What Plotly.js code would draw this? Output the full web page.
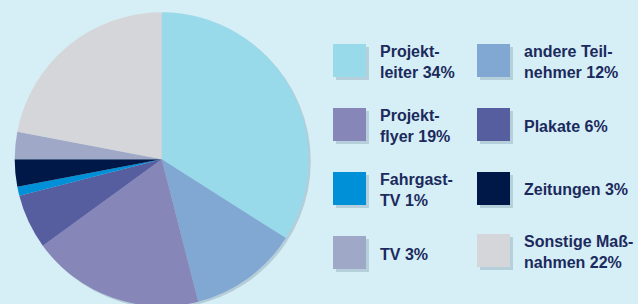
<!DOCTYPE html>
<html>
<head>
<meta charset="utf-8">
<script src="https://cdn.plot.ly/plotly-3.0.1.min.js"></script>
<style>
html,body{margin:0;padding:0;background:#d6eef6;overflow:hidden;width:638px;height:304px;}
#chart{width:638px;height:312px;}
</style>
</head>
<body>
<div id="chart"></div>
<script>
// Data
var categories = ["Projektleiter", "andere Teilnehmer", "Projektflyer", "Plakate", "Fahrgast-TV", "Zeitungen", "TV", "Sonstige Maßnahmen"];
var values = [34, 12, 19, 6, 1, 3, 3, 22];
var legendLabels = ["Projekt-<br>leiter 34%", "andere Teil-<br>nehmer 12%", "Projekt-<br>flyer 19%", "Plakate 6%", "Fahrgast-<br>TV 1%", "Zeitungen 3%", "TV 3%", "Sonstige Maß-<br>nahmen 22%"];
var colors = ["#98d9ea", "#80a8d2", "#8686b8", "#575ea0", "#0090d8", "#001848", "#a0a8c8", "#d4d6d9"];
var legendOrder = [0, 1, 2, 3, 4, 5, 6, 7];

var W = 638, H = 312;
var total = values.reduce(function(a, b){ return a + b; }, 0);

var shadow = {
  type: "pie",
  values: [total],
  marker: {colors: ["rgba(60,90,110,0.22)"], line: {width: 0}},
  textinfo: "none",
  hoverinfo: "skip",
  sort: false,
  showlegend: false,
  domain: {x: [16.7/W, 310.7/W], y: [3.7/H, 297.7/H]}
};

var pie = {
  type: "pie",
  labels: categories,
  values: values,
  marker: {colors: colors, line: {width: 0}},
  textinfo: "none",
  hoverinfo: "label+percent",
  sort: false,
  direction: "clockwise",
  rotation: 0,
  showlegend: false,
  domain: {x: [14.7/W, 308.7/W], y: [5.7/H, 299.7/H]}
};

var shapes = [];
var annotations = [];
var colX = [333, 477];
var rowY = [44, 108, 172, 236];
var sq = 33;
legendOrder.forEach(function(idx, k){
  var col = k % 2, row = Math.floor(k / 2);
  var x0 = colX[col], y0 = rowY[row];
  if (col === 1 && row === 3) { y0 -= 2; }
  shapes.push({type: "rect", xref: "paper", yref: "paper",
    x0: (x0 + 3) / W, x1: (x0 + sq + 3) / W, y0: 1 - (y0 + sq + 3) / H, y1: 1 - (y0 + 3) / H,
    fillcolor: "rgba(40,70,100,0.18)", line: {width: 0}, layer: "below"});
  shapes.push({type: "rect", xref: "paper", yref: "paper",
    x0: x0 / W, x1: (x0 + sq) / W, y0: 1 - (y0 + sq) / H, y1: 1 - y0 / H,
    fillcolor: colors[idx], line: {width: 0}});
  annotations.push({xref: "paper", yref: "paper",
    x: (x0 + sq + 11.5) / W, y: 1 - (y0 + sq / 2 + 1.5) / H,
    xanchor: "left", yanchor: "middle", align: "left", showarrow: false,
    text: "<b>" + legendLabels[idx] + "</b>",
    font: {family: "Liberation Sans, Arial, sans-serif", size: 16, color: "#1b2a5c", weight: 700}});
});

var layout = {
  width: W, height: H,
  margin: {l: 0, r: 0, t: 0, b: 0},
  paper_bgcolor: "#d6eef6",
  plot_bgcolor: "#d6eef6",
  shapes: shapes,
  annotations: annotations
};

Plotly.newPlot("chart", [shadow, pie], layout, {displayModeBar: false, staticPlot: true});
</script>
</body>
</html>
